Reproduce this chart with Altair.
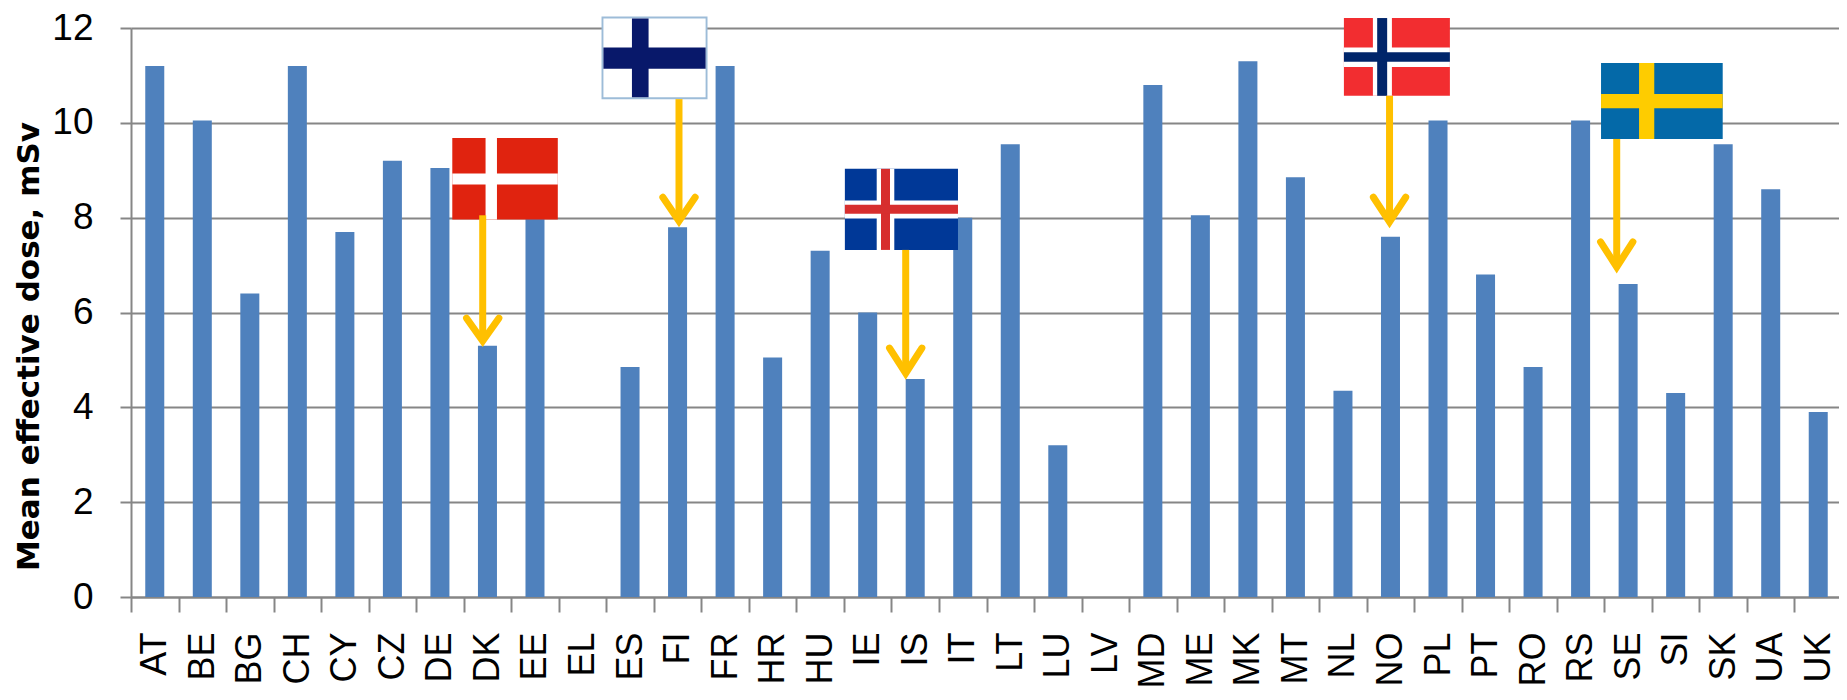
import altair as alt
import pandas as pd

codes = ["AT","BE","BG","CH","CY","CZ","DE","DK","EE","EL","ES","FI","FR","HR","HU","IE","IS","IT",
         "LT","LU","LV","MD","ME","MK","MT","NL","NO","PL","PT","RO","RS","SE","SI","SK","UA","UK"]
doses = [11.2,10.05,6.4,11.2,7.7,9.2,9.05,5.3,8.0,None,4.85,7.8,11.2,5.05,7.3,6.0,4.6,8.0,
         9.55,3.2,None,10.8,8.05,11.3,8.85,4.35,7.6,10.05,6.8,4.85,10.05,6.6,4.3,9.55,8.6,3.9]

# Flags as rectangles, in (category position, mSv) units: x0, x1, y0, y1, colour
flag_dk = [(6.76,8.98,7.96,9.68,"#e0230f"),(7.46,7.70,7.96,9.68,"#ffffff"),(6.76,8.98,8.70,8.93,"#ffffff")]
flag_fi = [(9.90,12.13,10.50,12.24,"#9dbcd8"),(9.94,12.09,10.54,12.20,"#ffffff"),
           (10.54,10.89,10.54,12.20,"#08186a"),(9.94,12.09,11.14,11.59,"#08186a")]
flag_is = [(15.02,17.40,7.32,9.03,"#003897"),(15.69,16.06,7.32,9.03,"#ffffff"),(15.02,17.40,7.98,8.36,"#ffffff"),
           (15.78,15.97,7.32,9.03,"#d72e2e"),(15.02,17.40,8.08,8.27,"#d72e2e")]
flag_no = [(25.52,27.75,10.57,12.21,"#f22d30"),(26.13,26.53,10.57,12.21,"#ffffff"),(25.52,27.75,11.18,11.59,"#ffffff"),
           (26.22,26.43,10.57,12.21,"#00256a"),(25.52,27.75,11.29,11.49,"#00256a")]
flag_se = [(30.93,33.49,9.66,11.26,"#0469a8"),(31.73,32.05,9.66,11.26,"#fecc00"),(30.93,33.49,10.31,10.61,"#fecc00")]

# Arrows: x, start, tip, head y, head half-width
arrow_x     = [7.40, 11.53, 16.30, 26.48, 31.26]
arrow_start = [8.05, 10.50, 7.32, 10.57, 9.66]
arrow_tip   = [5.40, 7.93, 4.72, 7.91, 6.96]
arrow_head  = [5.88, 8.43, 5.25, 8.43, 7.49]
arrow_half  = 0.34

ARROW = "#ffc000"
GRID = "#868686"
YTITLE = "Mean effective dose, mSv"
XRANGE = [0, 1711]

bars = pd.DataFrame({"code": codes, "dose": doses})
rects = pd.DataFrame(flag_dk + flag_fi + flag_is + flag_no + flag_se, columns=["x0","x1","y0","y1","c"])
shafts = pd.DataFrame({"x": arrow_x, "y0": arrow_start, "y1": [t + 0.1 for t in arrow_tip]})
heads = []
for i, (x, t, h) in enumerate(zip(arrow_x, arrow_tip, arrow_head)):
    heads += [(i, 0, x - arrow_half, h), (i, 1, x, t), (i, 2, x + arrow_half, h)]
heads = pd.DataFrame(heads, columns=["a","o","x","y"])

yscale = alt.Scale(domain=[0, 12], nice=False)
xnum = alt.Scale(domain=[0, 36], nice=False, range=XRANGE)

bar_layer = alt.Chart(bars).mark_bar(color="#4f81bd", width=alt.RelativeBandSize(band=0.4)).encode(
    x=alt.X("code:N", sort=codes, title=None,
            scale=alt.Scale(paddingInner=0, paddingOuter=0, range=XRANGE),
            axis=alt.Axis(labelAngle=-90, labelAlign="right", labelBaseline="middle",
                          labelFont="Liberation Sans", labelFontSize=36, labelColor="#000000",
                          labelPadding=20, labelOverlap=False,
                          tickBand="extent", tickSize=15, tickWidth=2, tickColor=GRID,
                          domainColor=GRID, domainWidth=2)),
    y=alt.Y("dose:Q", scale=yscale, title=YTITLE,
            axis=alt.Axis(values=[0,2,4,6,8,10,12], grid=True, gridColor=GRID, gridWidth=2,
                          tickSize=11, tickWidth=2, tickColor=GRID, domainColor=GRID, domainWidth=2,
                          labelFont="Liberation Sans", labelFontSize=37, labelColor="#000000",
                          labelPadding=27,
                          titleFont="DejaVu Sans", titleFontWeight="bold",
                          titleFontSize=31, titleColor="#000000", titleAngle=-90,
                          titleX=-93, titleY=318, titleAlign="center", titleBaseline="alphabetic")),
)

flag_layer = alt.Chart(rects).mark_rect(clip=False).encode(
    x=alt.X("x0:Q", scale=xnum, axis=None), x2="x1:Q",
    y=alt.Y("y0:Q", scale=yscale, title=YTITLE), y2="y1:Q",
    color=alt.Color("c:N", scale=None),
)

shaft_layer = alt.Chart(shafts).mark_rule(color=ARROW, strokeWidth=7).encode(
    x=alt.X("x:Q", scale=xnum, axis=None),
    y=alt.Y("y0:Q", scale=yscale, title=YTITLE), y2="y1:Q",
)

head_layer = alt.Chart(heads).mark_line(color=ARROW, strokeWidth=7, strokeCap="round", strokeJoin="miter").encode(
    x=alt.X("x:Q", scale=xnum, axis=None),
    y=alt.Y("y:Q", scale=yscale, title=YTITLE),
    detail="a:N", order="o:Q",
)

chart = alt.layer(
    bar_layer, flag_layer, shaft_layer, head_layer
).resolve_scale(x="independent").properties(
    width=1708, height=569,
    autosize=alt.AutoSizeParams(type="none"),
    padding={"left": 123, "right": 0, "top": 20, "bottom": 95},
).configure_view(stroke=None)

chart.save("out.html", embed_options={"renderer": "svg", "actions": False})
